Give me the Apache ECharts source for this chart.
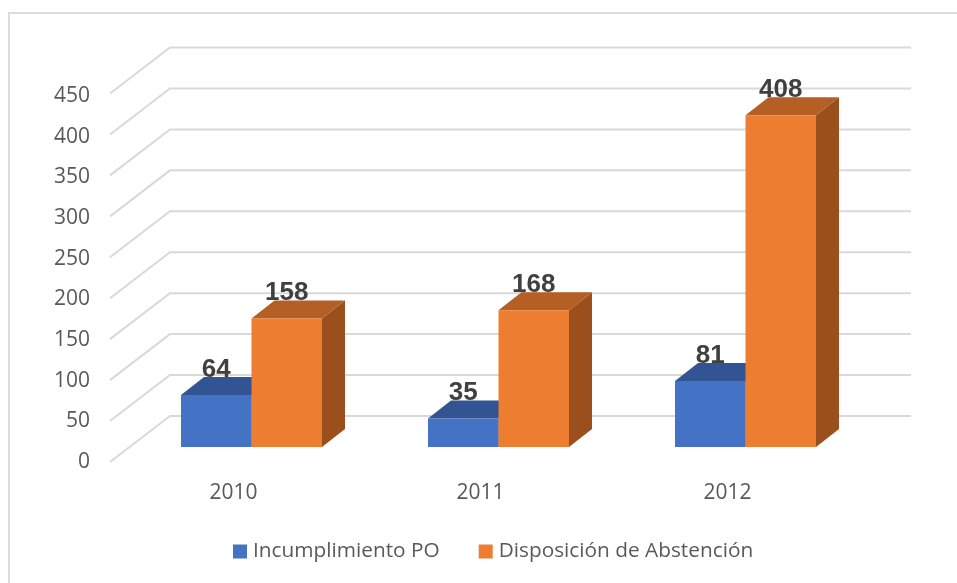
<!DOCTYPE html>
<html><head><meta charset="utf-8">
<style>html,body{margin:0;padding:0;background:#fff}#c{width:957px;height:583px}</style>
<script src="https://cdn.jsdelivr.net/npm/echarts@6/dist/echarts.min.js"></script>
</head><body><div id="c"></div>
<script>
var categories = ['2010','2011','2012'];
var incumplimiento = [64,35,81];
var disposicion = [158,168,408];
var ticks = [0,50,100,150,200,250,300,350,400,450];
var seriesNames = ['Incumplimiento PO','Disposición de Abstención'];

var chart = echarts.init(document.getElementById('c'),null,{renderer:'canvas'});
var BW=70.5, FX=18, FY=-15, DX=23, DY=-18;

function bar3d(side,front,top,dark){
  return function(params,api){
    var p=api.coord([api.value(0),api.value(1)]);
    var b=api.coord([api.value(0),0]);
    var cx=p[0]+FX, y1=p[1]+FY, y0=b[1]+FY;
    var x0=side<0?cx-BW:cx, x1=x0+BW;
    return {type:'group',silent:true,children:[
      {type:'polygon',shape:{points:[[x1,y1],[x1+DX,y1+DY],[x1+DX,y0+DY],[x1,y0]]},style:{fill:dark}},
      {type:'polygon',shape:{points:[[x0,y1],[x0+DX,y1+DY],[x1+DX,y1+DY],[x1,y1]]},style:{fill:top}},
      {type:'rect',shape:{x:x0,y:y1,width:BW,height:y0-y1},style:{fill:front}},
      {type:'text',z2:50,style:{text:String(api.value(1)),x:(x0+x1)/2,y:y1-25.5,align:'center',verticalAlign:'middle',
        font:'bold 26px "Liberation Sans", Arial, sans-serif',fill:'#404040'}}
    ]};
  };
}
function wall(params,api){
  var p=api.coord([0,api.value(0)]);
  var c=params.coordSys, x=c.x, y=p[1];
  return {type:'polyline',silent:true,shape:{points:[[x,y+2],[x+60,y-44],[x+c.width+60,y-44]]},
    style:{fill:null,stroke:'#D9D9D9',lineWidth:2}};
}
function rows(vals){return vals.map(function(v,i){return [i,v];});}

chart.setOption({
  animation:false,
  backgroundColor:'#fff',
  graphic:[{type:'polyline',silent:true,z:-1,shape:{points:[[9,583],[9,13],[957,13]]},style:{fill:null,stroke:'#DCDCDC',lineWidth:2}}],
  grid:[{left:110,width:741,top:96,height:366},{left:110,width:741,top:91.5,height:368.5}],
  legend:{data:seriesNames,left:228,top:536,itemWidth:14,itemHeight:14,itemGap:39,icon:'rect',
    textStyle:{fontFamily:'"Open Sans"',fontSize:20.8,color:'#595959',padding:[0,0,0,1]}},
  xAxis:[{type:'category',data:categories,axisLine:{show:false},axisTick:{show:false},
    axisLabel:{margin:21,fontFamily:'"Open Sans"',fontSize:21,color:'#595959'}},
    {type:'category',gridIndex:1,show:false,data:categories}],
  yAxis:[{type:'value',min:0,max:450,interval:50,axisLine:{show:false},axisTick:{show:false},splitLine:{show:false},
    axisLabel:{margin:20,fontFamily:'"Open Sans"',fontSize:21,color:'#595959'}},
    {type:'value',gridIndex:1,show:false,min:0,max:450,interval:50,splitLine:{show:false}}],
  series:[
    {type:'custom',name:'wall',xAxisIndex:1,yAxisIndex:1,data:ticks.map(function(v){return [v];}),encode:{y:0},renderItem:wall,z:1,silent:true,clip:false},
    {type:'custom',name:seriesNames[0],data:rows(incumplimiento),encode:{x:0,y:1},itemStyle:{color:'#4472C4'},z:2,silent:true,clip:false,
      renderItem:bar3d(-1,'#4472C4','#335492','#2E4D85')},
    {type:'custom',name:seriesNames[1],data:rows(disposicion),encode:{x:0,y:1},itemStyle:{color:'#ED7D31'},z:3,silent:true,clip:false,
      renderItem:bar3d(1,'#ED7D31','#B45F24','#9A4F1C')}
  ]
});
</script></body></html>
